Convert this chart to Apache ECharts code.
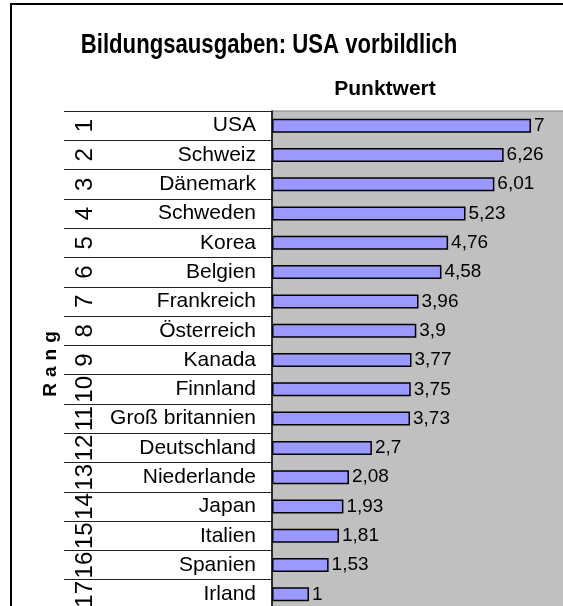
<!DOCTYPE html>
<html>
<head>
<meta charset="utf-8">
<script src="https://cdn.jsdelivr.net/npm/echarts@6/dist/echarts.min.js"></script>
<style>
  html, body { margin: 0; padding: 0; background: #fff; }
  #chart { width: 563px; height: 606px; }
</style>
</head>
<body>
<div id="chart"></div>
<script>
const ranks = ['1', '2', '3', '4', '5', '6', '7', '8', '9', '10', '11', '12', '13', '14', '15', '16', '17'];
const countries = ['USA', 'Schweiz', 'Dänemark', 'Schweden', 'Korea', 'Belgien', 'Frankreich', 'Österreich',
  'Kanada', 'Finnland', 'Groß britannien', 'Deutschland', 'Niederlande', 'Japan', 'Italien', 'Spanien', 'Irland'];
const scores = [7, 6.26, 6.01, 5.23, 4.76, 4.58, 3.96, 3.9, 3.77, 3.75, 3.73, 2.7, 2.08, 1.93, 1.81, 1.53, 1];

const font = 'Liberation Sans, Arial, sans-serif';

const chart = echarts.init(document.getElementById('chart'));

chart.setOption({
  animation: false,
  title: {
    text: 'Punktwert',
    left: 380, top: 74, textAlign: 'center',
    textStyle: { fontFamily: font, fontSize: 21, fontWeight: 'bold', color: '#000' }
  },
  graphic: [
    {
      // main title, squeezed horizontally like the original narrow face
      type: 'text', x: 269, y: 46, scaleX: 0.82,
      style: {
        text: 'Bildungsausgaben: USA vorbildlich',
        font: 'bold 27px Liberation Sans, Arial, sans-serif',
        fill: '#000', align: 'center', verticalAlign: 'middle'
      }
    },
    {
      // axis title "Rang", read bottom to top, letter-spaced
      type: 'text', x: 51, y: 364, rotation: Math.PI / 2,
      style: {
        text: '{a|R}{a|a}{a|n}{a|g}',
        font: 'bold 19px Liberation Sans, Arial, sans-serif',
        fill: '#000', align: 'center', verticalAlign: 'middle',
        rich: { a: { font: 'bold 19px Liberation Sans, Arial, sans-serif', fill: '#000', padding: [0, 3, 0, 3] } }
      }
    },
    {
      type: 'rect',
      shape: { x: 11, y: 4, width: 700, height: 800 },
      style: { fill: 'none', stroke: '#000', lineWidth: 2 },
      z: 100
    }
  ],
  grid: {
    left: 272, top: 111, width: 296, height: 498,
    outerBoundsMode: 'none', containLabel: false,
    show: true, backgroundColor: '#c0c0c0', borderWidth: 1, borderColor: '#808080'
  },
  xAxis: { type: 'value', min: 0, max: 8, show: false },
  yAxis: [
    {
      type: 'category', data: countries, inverse: true, position: 'left',
      axisLine: { show: true, lineStyle: { color: '#000', width: 1.5 } },
      axisTick: { show: true, length: 208, lineStyle: { color: '#222', width: 1 } },
      axisLabel: { interval: 0, margin: 16, fontFamily: font, fontSize: 21, color: '#000' }
    },
    {
      type: 'category', data: ranks, inverse: true, position: 'left',
      axisLine: { show: false }, axisTick: { show: false },
      axisLabel: {
        interval: 0, rotate: 90, margin: 187, align: 'center', verticalAlign: 'middle',
        fontFamily: font, fontSize: 24, color: '#000', hideOverlap: false
      }
    }
  ],
  series: [{
    type: 'bar',
    data: scores,
    barWidth: 14,
    itemStyle: { color: '#9999ff', borderColor: '#000', borderWidth: 1.5 },
    label: {
      show: true, position: 'right', distance: 3,
      fontFamily: font, fontSize: 19, color: '#000',
      formatter: p => String(p.value).replace('.', ',')
    }
  }]
});
</script>
</body>
</html>
